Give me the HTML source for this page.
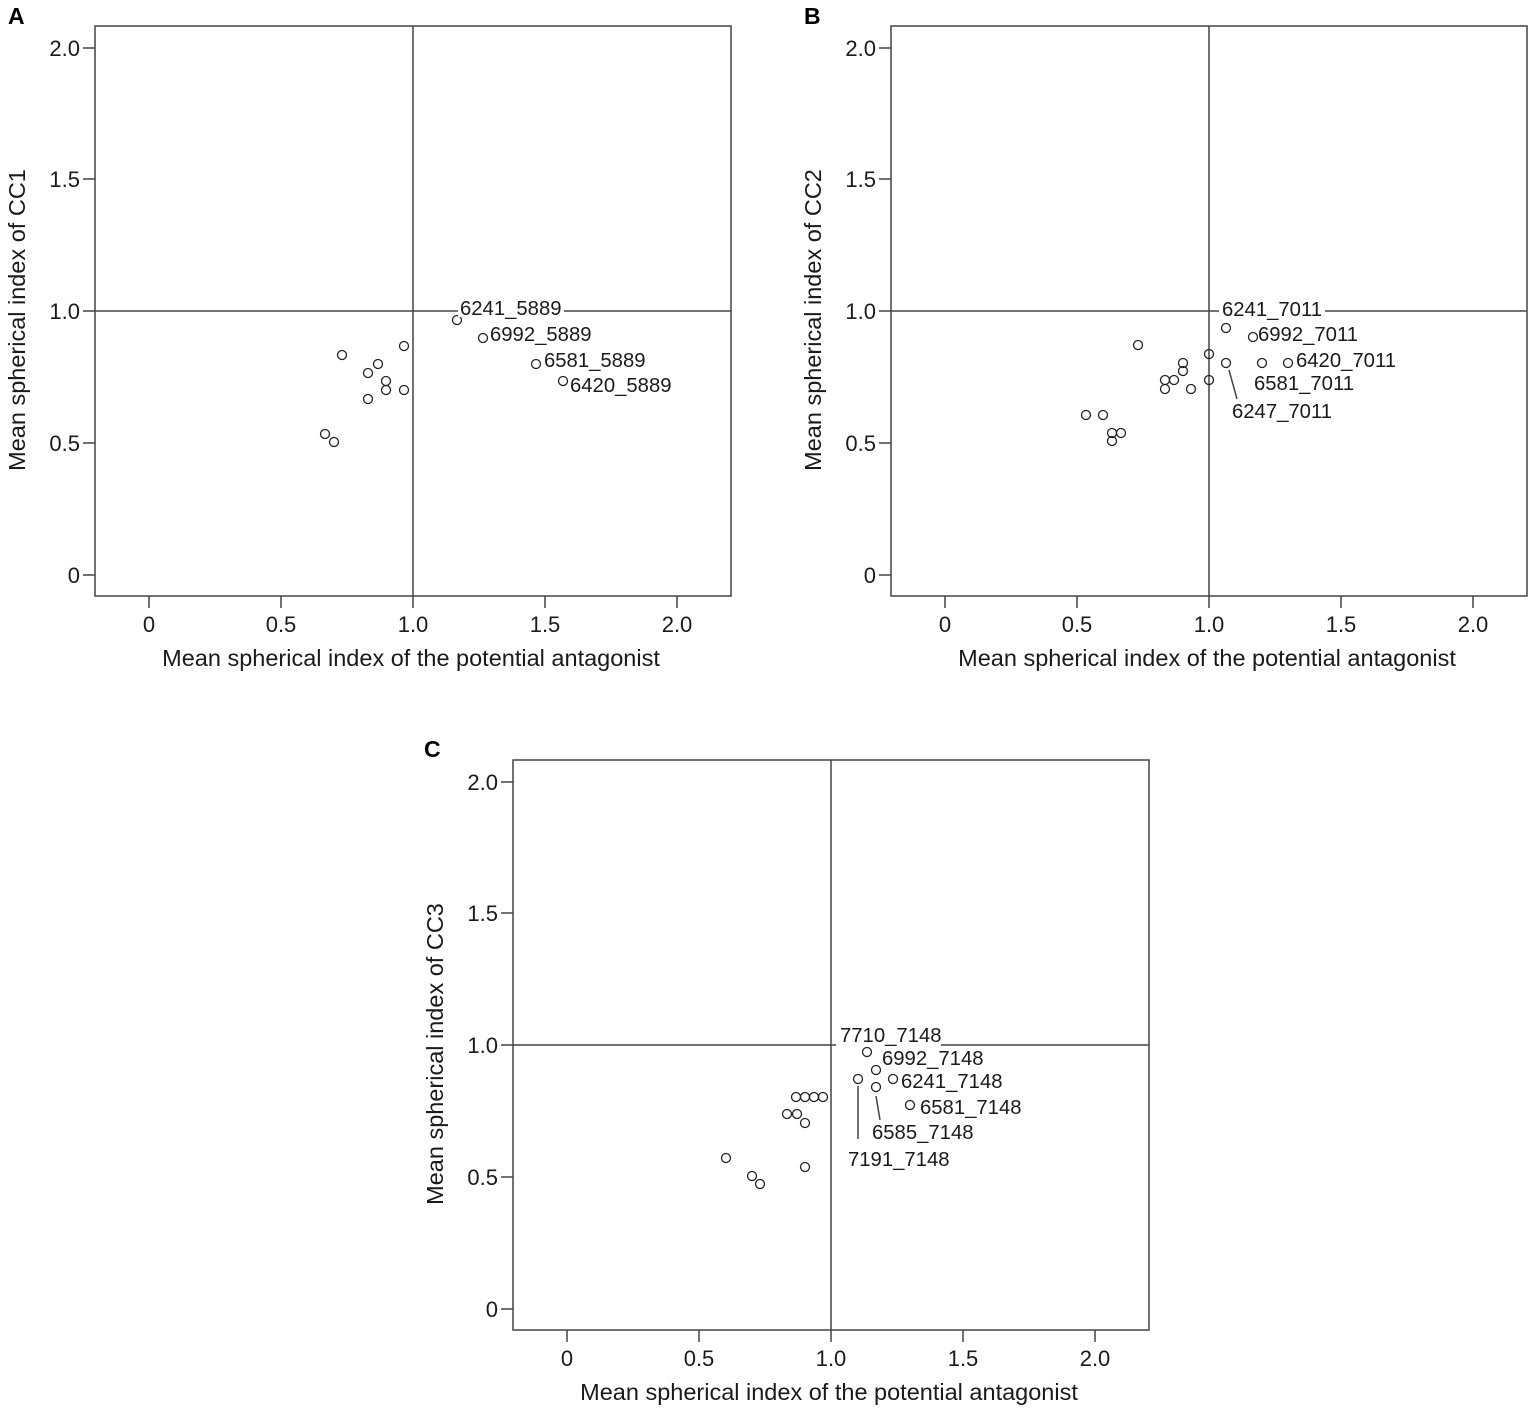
<!DOCTYPE html>
<html><head><meta charset="utf-8"><style>
body{margin:0;background:#fff}
svg{display:block;font-family:"Liberation Sans",Arial,sans-serif;fill:#1a1a1a}
.ax{fill:none;stroke:#444;stroke-width:1.5}
.pt{fill:none;stroke:#222;stroke-width:1.3}
.tk{font-size:22px}
.tt{font-size:23.5px}
.lb{font-size:20.3px}
.pl{font-size:23px;font-weight:bold;fill:#000}
</style></head><body>
<svg width="1535" height="1410" viewBox="0 0 1535 1410">
<defs>
<g id="frame">
<rect class="ax" x="95" y="26" width="636" height="570"/>
<path class="ax" d="M83 575H95M83 443H95M83 311H95M83 179H95M83 48H95M149 596V608M281 596V608M413 596V608M545 596V608M677 596V608M95 311H731M413 26V596"/>
<g class="tk" text-anchor="end"><text x="80" y="583">0</text><text x="80" y="451">0.5</text><text x="80" y="319">1.0</text><text x="80" y="187">1.5</text><text x="80" y="56">2.0</text></g>
<g class="tk" text-anchor="middle"><text x="149" y="632">0</text><text x="281" y="632">0.5</text><text x="413" y="632">1.0</text><text x="545" y="632">1.5</text><text x="677" y="632">2.0</text></g>
<text class="tt" x="411" y="666" text-anchor="middle">Mean spherical index of the potential antagonist</text>
</g>
</defs>
<!-- A -->
<use href="#frame"/>
<text class="pl" x="8" y="24">A</text>
<text class="tt" transform="translate(25,320) rotate(-90)" text-anchor="middle">Mean spherical index of CC1</text>
<g class="pt"><circle cx="325" cy="434" r="4.5"/><circle cx="334" cy="442" r="4.5"/><circle cx="342" cy="355" r="4.5"/><circle cx="368" cy="373" r="4.5"/><circle cx="378" cy="364" r="4.5"/><circle cx="386" cy="381" r="4.5"/><circle cx="386" cy="390" r="4.5"/><circle cx="368" cy="399" r="4.5"/><circle cx="404" cy="346" r="4.5"/><circle cx="404" cy="390" r="4.5"/><circle cx="457" cy="320" r="4.5"/><circle cx="483" cy="338" r="4.5"/><circle cx="536" cy="364" r="4.5"/><circle cx="563" cy="381" r="4.5"/></g>
<rect x="458" y="297" width="106" height="20" fill="#fff"/>
<g class="lb"><text x="460" y="315">6241_5889</text><text x="490" y="341">6992_5889</text><text x="544" y="367">6581_5889</text><text x="570" y="392">6420_5889</text></g>
<!-- B -->
<use href="#frame" transform="translate(796,0)"/>
<text class="pl" x="804" y="24">B</text>
<text class="tt" transform="translate(821,320) rotate(-90)" text-anchor="middle">Mean spherical index of CC2</text>
<g class="pt"><circle cx="1138" cy="345" r="4.5"/><circle cx="1226" cy="328" r="4.5"/><circle cx="1253" cy="337" r="4.5"/><circle cx="1209" cy="354" r="4.5"/><circle cx="1183" cy="363" r="4.5"/><circle cx="1183" cy="371" r="4.5"/><circle cx="1165" cy="380" r="4.5"/><circle cx="1174" cy="380" r="4.5"/><circle cx="1165" cy="389" r="4.5"/><circle cx="1191" cy="389" r="4.5"/><circle cx="1209" cy="380" r="4.5"/><circle cx="1226" cy="363" r="4.5"/><circle cx="1262" cy="363" r="4.5"/><circle cx="1288" cy="363" r="4.5"/><circle cx="1086" cy="415" r="4.5"/><circle cx="1103" cy="415" r="4.5"/><circle cx="1112" cy="433" r="4.5"/><circle cx="1121" cy="433" r="4.5"/><circle cx="1112" cy="441" r="4.5"/></g>
<path class="ax" d="M1229 370L1237 399" stroke-width="1.2"/>
<rect x="1219" y="297" width="106" height="20" fill="#fff"/>
<g class="lb"><text x="1222" y="316">6241_7011</text><text x="1258" y="341">6992_7011</text><text x="1296" y="367">6420_7011</text><text x="1254" y="390">6581_7011</text><text x="1232" y="418">6247_7011</text></g>
<!-- C -->
<use href="#frame" transform="translate(418,734)"/>
<text class="pl" x="424" y="757">C</text>
<text class="tt" transform="translate(443,1054) rotate(-90)" text-anchor="middle">Mean spherical index of CC3</text>
<g class="pt"><circle cx="867" cy="1052" r="4.5"/><circle cx="876" cy="1070" r="4.5"/><circle cx="858" cy="1079" r="4.5"/><circle cx="893" cy="1079" r="4.5"/><circle cx="876" cy="1087" r="4.5"/><circle cx="910" cy="1105" r="4.5"/><circle cx="796" cy="1097" r="4.5"/><circle cx="805" cy="1097" r="4.5"/><circle cx="814" cy="1097" r="4.5"/><circle cx="823" cy="1097" r="4.5"/><circle cx="787" cy="1114" r="4.5"/><circle cx="797" cy="1114" r="4.5"/><circle cx="805" cy="1123" r="4.5"/><circle cx="726" cy="1158" r="4.5"/><circle cx="752" cy="1176" r="4.5"/><circle cx="760" cy="1184" r="4.5"/><circle cx="805" cy="1167" r="4.5"/></g>
<path class="ax" d="M858 1086V1139M876 1096L880 1120" stroke-width="1.2"/>
<rect x="836" y="1027" width="105" height="20" fill="#fff"/>
<g class="lb"><text x="840" y="1042">7710_7148</text><text x="882" y="1065">6992_7148</text><text x="901" y="1088">6241_7148</text><text x="920" y="1114">6581_7148</text><text x="872" y="1139">6585_7148</text><text x="848" y="1166">7191_7148</text></g>
</svg>
</body></html>
